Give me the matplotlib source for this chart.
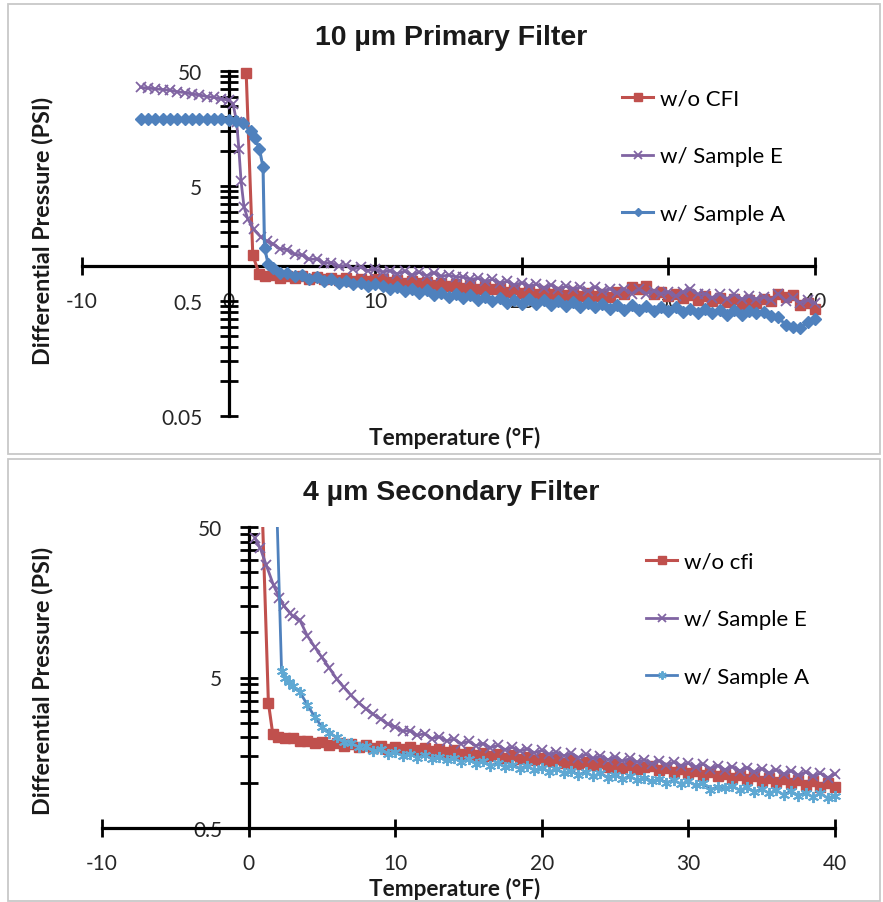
import matplotlib
matplotlib.use('Agg')
import matplotlib.pyplot as plt
from matplotlib.ticker import FixedLocator, FixedFormatter, NullFormatter
from matplotlib.patches import Rectangle

# ---------------- data ----------------
# shared temperature grid for the slow-decline part (°F)
T_TAIL = [3.0, 3.5, 4.0, 4.5, 5.0, 5.5, 6.0, 6.5, 7.0, 7.5, 8.0, 8.5, 9.0, 9.5, 10.0,
          10.5, 11.0, 11.5, 12.0, 12.5, 13.0, 13.5, 14.0, 14.5, 15.0, 15.5, 16.0, 16.5, 17.0, 17.5,
          18.0, 18.5, 19.0, 19.5, 20.0,
          20.5, 21.0, 21.5, 22.0, 22.5, 23.0, 23.5, 24.0, 24.5, 25.0, 25.5, 26.0, 26.5, 27.0, 27.5,
          28.0, 28.5, 29.0, 29.5, 30.0,
          30.5, 31.0, 31.5, 32.0, 32.5, 33.0, 33.5, 34.0, 34.5, 35.0, 35.5, 36.0, 36.5, 37.0, 37.5,
          38.0, 38.5, 39.0, 39.5, 40.0]
T_COLD = [-6.0, -5.5, -5.0, -4.5, -4.0, -3.5, -3.0, -2.5, -2.0, -1.5, -1.0, -0.5, 0.0]

# ---- 10 µm primary filter ----
p_cfi_head_t = [1.2, 1.65, 2.1, 2.5]
p_cfi_head_v = [48, 1.25, 0.85, 0.83]
p_cfi_tail_v = [0.84, 0.80, 0.83, 0.79, 0.82, 0.78, 0.81, 0.77, 0.80, 0.76, 0.80, 0.75, 0.78, 0.74, 0.77,
                0.77, 0.73, 0.76, 0.72, 0.75, 0.71, 0.73, 0.69, 0.72, 0.68, 0.70, 0.65, 0.69, 0.64, 0.67,
                0.63, 0.65, 0.60, 0.63, 0.59,
                0.62, 0.58, 0.61, 0.57, 0.60, 0.56, 0.60, 0.55, 0.59, 0.55, 0.58, 0.54, 0.60, 0.57, 0.66,
                0.63, 0.67, 0.57, 0.60, 0.55,
                0.57, 0.53, 0.56, 0.51, 0.55, 0.50, 0.53, 0.49, 0.52, 0.47, 0.51, 0.48, 0.52, 0.50, 0.57,
                0.54, 0.56, 0.46, 0.48, 0.43]

p_e_cold_v = [36, 35.5, 35, 34.5, 34, 33, 32.5, 31.5, 31, 30, 29.5, 28.5, 28]
p_e_head_t = [0.3, 0.55, 0.7, 0.85, 1.05, 1.3, 1.7, 2.2, 2.6]
p_e_head_v = [26, 18, 10.5, 5.5, 3.3, 2.6, 2.1, 1.8, 1.65]
p_e_tail_v = [1.58, 1.42, 1.40, 1.27, 1.26, 1.15, 1.16, 1.07, 1.08, 1.00, 1.02, 0.95, 0.98, 0.92, 0.95,
              0.89, 0.92, 0.86, 0.91, 0.84, 0.89, 0.83, 0.88, 0.82, 0.84, 0.81, 0.81, 0.77, 0.79, 0.74,
              0.77, 0.72, 0.74, 0.69, 0.72,
              0.67, 0.70, 0.65, 0.69, 0.64, 0.67, 0.64, 0.66, 0.61, 0.66, 0.61, 0.64, 0.59, 0.64, 0.58,
              0.63, 0.58, 0.61, 0.58, 0.60,
              0.55, 0.60, 0.64, 0.57, 0.58, 0.53, 0.58, 0.52, 0.57, 0.52, 0.55, 0.52, 0.54, 0.51, 0.58,
              0.50, 0.53, 0.48, 0.51, 0.48]

p_a_cold_v = [19.0, 19.2, 19.0, 19.3, 19.1, 19.0, 19.2, 19.0, 19.1, 19.0, 19.2, 19.0, 18.8]
p_a_head_t = [0.5, 1.0, 1.5, 1.8, 2.1, 2.35, 2.45, 2.7]
p_a_head_v = [18.5, 17.5, 15.0, 13.0, 10.5, 7.3, 1.45, 1.05]
p_a_tail_v = [0.97, 0.88, 0.88, 0.82, 0.84, 0.78, 0.81, 0.75, 0.78, 0.72, 0.75, 0.70, 0.72, 0.67, 0.70,
              0.68, 0.64, 0.66, 0.61, 0.64, 0.59, 0.62, 0.56, 0.59, 0.54, 0.57, 0.53, 0.56, 0.51, 0.54,
              0.50, 0.53, 0.48, 0.51, 0.47,
              0.52, 0.47, 0.51, 0.46, 0.50, 0.45, 0.49, 0.44, 0.48, 0.44, 0.47, 0.43, 0.46, 0.42, 0.46,
              0.42, 0.45, 0.41, 0.44, 0.41,
              0.44, 0.40, 0.43, 0.39, 0.43, 0.39, 0.42, 0.38, 0.42, 0.38, 0.41, 0.39, 0.40, 0.37, 0.36,
              0.31, 0.30, 0.29, 0.33, 0.35]

# ---- 4 µm secondary filter ----
s_cfi_head_t = [0.9, 1.35, 1.65, 2.0, 2.5]
s_cfi_head_v = [80, 3.4, 2.1, 2.02, 1.98]
s_cfi_tail_v = [1.97, 1.90, 1.90, 1.84, 1.87, 1.79, 1.83, 1.76, 1.80, 1.73, 1.78, 1.71, 1.75, 1.68, 1.73,
                1.67, 1.72, 1.64, 1.71, 1.62, 1.67, 1.59, 1.64, 1.56, 1.61, 1.53, 1.58, 1.50, 1.55, 1.47,
                1.52, 1.44, 1.49, 1.41, 1.46,
                1.39, 1.44, 1.36, 1.41, 1.33, 1.38, 1.31, 1.36, 1.28, 1.34, 1.25, 1.31, 1.23, 1.28, 1.30,
                1.22, 1.25, 1.18, 1.23, 1.16,
                1.20, 1.13, 1.18, 1.11, 1.15, 1.08, 1.13, 1.06, 1.11, 1.03, 1.08, 1.01, 1.06, 0.99, 1.04,
                0.97, 1.02, 0.94, 0.99, 0.93]

s_e_head_t = [0.45, 0.8, 1.2, 1.7, 2.1, 2.4, 2.8]
s_e_head_v = [42, 36, 28, 20.5, 17, 15, 13.5]
s_e_tail_v = [12.8, 12.0, 9.5, 8.0, 6.8, 5.8, 4.9, 4.3, 3.8, 3.4, 3.1, 2.85, 2.65, 2.45, 2.35,
              2.20, 2.22, 2.06, 2.12, 1.96, 2.02, 1.89, 1.95, 1.82, 1.88, 1.76, 1.82, 1.71, 1.77, 1.66,
              1.72, 1.62, 1.68, 1.58, 1.64,
              1.54, 1.60, 1.51, 1.57, 1.47, 1.54, 1.45, 1.51, 1.42, 1.48, 1.39, 1.45, 1.37, 1.42, 1.34,
              1.40, 1.32, 1.37, 1.29, 1.35,
              1.27, 1.33, 1.24, 1.30, 1.22, 1.28, 1.20, 1.26, 1.18, 1.24, 1.16, 1.22, 1.14, 1.20, 1.12,
              1.18, 1.10, 1.16, 1.08, 1.14]

s_a_head_t = [1.9, 2.25, 2.5, 2.75]
s_a_head_v = [80, 5.5, 5.0, 4.7]
s_a_tail_v = [4.4, 4.0, 3.3, 2.75, 2.35, 2.15, 2.0, 1.85, 1.84, 1.72, 1.74, 1.63, 1.67, 1.56, 1.60,
              1.51, 1.56, 1.47, 1.53, 1.44, 1.49, 1.41, 1.46, 1.37, 1.43, 1.34, 1.39, 1.30, 1.35, 1.27,
              1.32, 1.24, 1.29, 1.21, 1.26,
              1.18, 1.23, 1.16, 1.20, 1.13, 1.18, 1.10, 1.16, 1.08, 1.13, 1.06, 1.10, 1.04, 1.08, 1.02,
              1.06, 1.00, 1.04, 0.98, 1.02,
              0.96, 0.99, 0.90, 0.94, 0.92, 0.95, 0.89, 0.93, 0.87, 0.91, 0.85, 0.89, 0.83, 0.88, 0.82,
              0.86, 0.80, 0.85, 0.79, 0.82]

X_TICKS = [-10, 0, 10, 20, 30, 40]
X_LABELS = ['-10', '0', '10', '20', '30', '40']
Y_TICKS_TOP = [0.05, 0.5, 5, 50]
Y_LABELS_TOP = ['0.05', '0.5', '5', '50']
Y_TICKS_BOT = [0.5, 5, 50]
Y_LABELS_BOT = ['0.5', '5', '50']

TITLES = ['10 µm Primary Filter', '4 µm Secondary Filter']
LEG_TOP = ['w/o CFI', 'w/ Sample E', 'w/ Sample A']
LEG_BOT = ['w/o cfi', 'w/ Sample E', 'w/ Sample A']

RED, PURPLE, BLUE, CYAN = '#C0504D', '#8064A2', '#4F81BD', '#5FA8D3'

# ---------------- figure ----------------
plt.rcParams['font.family'] = ['Lato', 'DejaVu Sans']
W, H = 883, 903
fig = plt.figure(figsize=(W / 100, H / 100), dpi=100)
fig.patch.set_facecolor('white')


def fx(x):
    return x / W


def fy(y):
    return 1 - y / H


for (x0, y0, x1, y1) in [(8, 5, 880, 455), (8, 460, 880, 902)]:
    fig.add_artist(Rectangle((fx(x0), fy(y1)), fx(x1) - fx(x0), fy(y0) - fy(y1),
                             transform=fig.transFigure, fill=False,
                             edgecolor='#C8C8C8', lw=1.3))


def style_axes(ax, ymin, ycross, yticks, ylabels):
    ax.set_yscale('log')
    ax.set_xlim(-10, 40)
    ax.set_ylim(ymin, 50)
    ax.patch.set_visible(False)
    for s in ['top', 'right']:
        ax.spines[s].set_visible(False)
    ax.spines['left'].set_position(('data', 0))
    ax.spines['bottom'].set_position(('data', ycross))
    for s in ['left', 'bottom']:
        ax.spines[s].set_linewidth(2.3)
        ax.spines[s].set_color('black')
    ax.xaxis.set_major_locator(FixedLocator(X_TICKS))
    ax.xaxis.set_major_formatter(FixedFormatter(X_LABELS))
    ax.xaxis.set_minor_locator(FixedLocator([]))
    ax.yaxis.set_major_locator(FixedLocator(yticks))
    ax.yaxis.set_major_formatter(FixedFormatter(ylabels))
    minors = []
    for d in yticks[:-1]:
        minors += [d * k for k in range(2, 10)]
    ax.yaxis.set_minor_locator(FixedLocator(minors))
    ax.yaxis.set_minor_formatter(NullFormatter())
    ax.tick_params(axis='both', which='both', direction='inout', length=13, width=2,
                   color='black', labelsize=15, labelcolor='#262626')
    ax.tick_params(axis='x', pad=11.5)
    ax.tick_params(axis='y', pad=12.5)


LEG_KW = dict(loc='upper left', frameon=False, fontsize=16, bbox_transform=fig.transFigure,
              borderpad=0, borderaxespad=0, handlelength=1.4, handletextpad=0.3,
              labelspacing=1.68, markerscale=0.75)

# ---- top panel ----
ax1 = fig.add_axes([fx(82), fy(417), fx(815) - fx(82), fy(72) - fy(417)])
style_axes(ax1, 0.05, 1, Y_TICKS_TOP, Y_LABELS_TOP)

l1, = ax1.plot(p_cfi_head_t + T_TAIL, p_cfi_head_v + p_cfi_tail_v, color=RED, lw=2.2,
               marker='s', ms=7, mec=RED, mfc=RED, clip_on=False, zorder=3, label=LEG_TOP[0])
l2, = ax1.plot(T_COLD + p_e_head_t + T_TAIL, p_e_cold_v + p_e_head_v + p_e_tail_v, color=PURPLE,
               lw=2, marker='x', ms=7, mew=1.3, clip_on=False, zorder=3, label=LEG_TOP[1])
l3, = ax1.plot(T_COLD + p_a_head_t + T_TAIL, p_a_cold_v + p_a_head_v + p_a_tail_v, color=BLUE,
               lw=2.2, marker='D', ms=6, mec=BLUE, mfc=BLUE, clip_on=False, zorder=3,
               label=LEG_TOP[2])

ax1.legend(handles=[l1, l2, l3], bbox_to_anchor=(fx(622), fy(90)), **LEG_KW)

# ---- bottom panel ----
ax2 = fig.add_axes([fx(102), fy(829), fx(835) - fx(102), fy(528) - fy(829)])
style_axes(ax2, 0.5, 0.5, Y_TICKS_BOT, Y_LABELS_BOT)

clip = Rectangle((-0.02, -0.05), 1.05, 1.05, transform=ax2.transAxes)
m1, = ax2.plot(s_cfi_head_t + T_TAIL, s_cfi_head_v + s_cfi_tail_v, color=RED, lw=2.2,
               marker='s', ms=7, mec=RED, mfc=RED, zorder=3, label=LEG_BOT[0])
m2, = ax2.plot(s_e_head_t + T_TAIL, s_e_head_v + s_e_tail_v, color=PURPLE, lw=2,
               marker='x', ms=7, mew=1.3, zorder=3, label=LEG_BOT[1])
m3, = ax2.plot(s_a_head_t + T_TAIL, s_a_head_v + s_a_tail_v, color=BLUE, lw=2,
               marker=(6, 2, 0), ms=8, mew=1.4, mec=CYAN, zorder=3, label=LEG_BOT[2])
for ln in (m1, m2, m3):
    ln.set_clip_path(clip)

ax2.legend(handles=[m1, m2, m3], bbox_to_anchor=(fx(646), fy(553)), **LEG_KW)

# ---- titles and axis titles ----
for title, ytitle, yxl, yyl in [(TITLES[0], 38, 438, 231), (TITLES[1], 493, 889, 681)]:
    fig.text(fx(451), fy(ytitle), title, ha='center', va='center', fontsize=20.5,
             fontweight='bold', family='Liberation Sans', color='#1a1a1a')
    fig.text(fx(455), fy(yxl), 'Temperature (°F)', ha='center', va='center', fontsize=16.3,
             fontweight='bold', color='#1a1a1a')
    fig.text(fx(43), fy(yyl), 'Differential Pressure (PSI)', ha='center', va='center',
             fontsize=16.8, fontweight='bold', rotation=90, color='#1a1a1a')

fig.savefig('out.png', dpi=100)
